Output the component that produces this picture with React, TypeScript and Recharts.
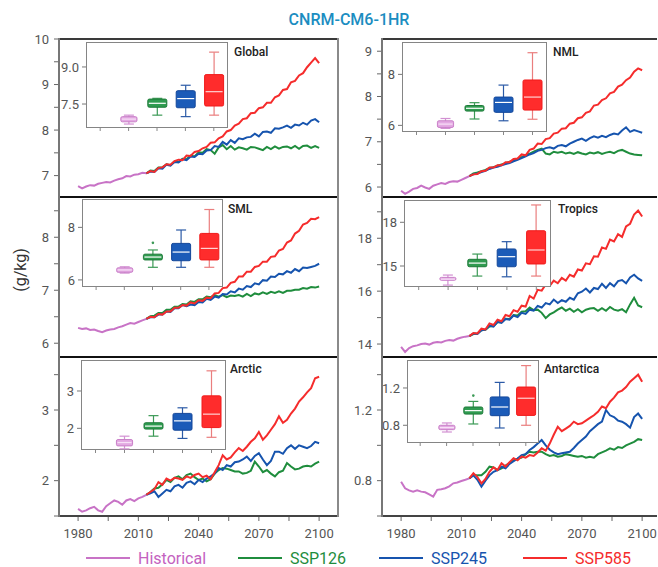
import React from 'react'
import { LineChart, Line, XAxis, YAxis, ComposedChart, Bar } from 'recharts'

const FONT = 'Roboto, "Noto Sans", sans-serif'

// years
const HIST_YEARS = [1980, 1982, 1984, 1986, 1988, 1990, 1992, 1994, 1996, 1998, 2000, 2002, 2004, 2006, 2008, 2010, 2012, 2014]
const SCEN_YEARS = [
  2014, 2016, 2018, 2020, 2022, 2024, 2026, 2028, 2030, 2032, 2034,
  2036, 2038, 2040, 2042, 2044, 2046, 2048, 2050, 2052, 2054, 2056,
  2058, 2060, 2062, 2064, 2066, 2068, 2070, 2072, 2074, 2076, 2078,
  2080, 2082, 2084, 2086, 2088, 2090, 2092, 2094, 2096, 2098, 2100,
]
const X_TICKS = [1980, 1995, 2010, 2025, 2040, 2055, 2070, 2085, 2100]
const X_LABELS = [1980, 2010, 2040, 2070, 2100]
const BOX_CATS = ['', 'Historical', 'SSP126', 'SSP245', 'SSP585']

// Global
const GLOBAL_HIST = [6.77, 6.72, 6.76, 6.79, 6.78, 6.82, 6.84, 6.86, 6.85, 6.89, 6.92, 6.94, 6.99, 6.98, 7.02, 7.03, 7.06, 7.05]
const GLOBAL_126 = [
  7.05, 7.11, 7.10, 7.18, 7.18, 7.25, 7.23, 7.31, 7.30, 7.37, 7.36,
  7.44, 7.42, 7.51, 7.50, 7.58, 7.56, 7.48, 7.62, 7.67, 7.58, 7.65,
  7.57, 7.62, 7.60, 7.57, 7.63, 7.62, 7.59, 7.56, 7.63, 7.58, 7.64,
  7.59, 7.63, 7.64, 7.60, 7.65, 7.59, 7.65, 7.66, 7.61, 7.65, 7.61,
]
const GLOBAL_245 = [
  7.05, 7.09, 7.08, 7.16, 7.15, 7.24, 7.22, 7.30, 7.29, 7.36, 7.34,
  7.42, 7.41, 7.48, 7.47, 7.55, 7.56, 7.65, 7.63, 7.74, 7.68, 7.78,
  7.72, 7.82, 7.80, 7.84, 7.85, 7.92, 7.86, 7.96, 7.97, 7.94, 8.04,
  8.03, 8.06, 8.10, 8.05, 8.12, 8.10, 8.16, 8.12, 8.21, 8.24, 8.17,
]
const GLOBAL_585 = [
  7.05, 7.10, 7.08, 7.17, 7.18, 7.25, 7.24, 7.32, 7.35, 7.34, 7.44,
  7.43, 7.52, 7.54, 7.60, 7.63, 7.72, 7.73, 7.82, 7.86, 7.97, 8.00,
  8.10, 8.14, 8.24, 8.26, 8.37, 8.38, 8.48, 8.50, 8.60, 8.60, 8.72,
  8.76, 8.88, 8.90, 9.05, 9.08, 9.20, 9.25, 9.38, 9.48, 9.58, 9.47,
]
const GLOBAL_Y_DOMAIN = [6.53, 10]
const GLOBAL_Y_TICKS = [7, 7.5, 8, 8.5, 9, 9.5, 10]
const GLOBAL_Y_LABELS = [7, 8, 9, 10]
// min, q1, median, q3, max
const GLOBAL_BOXES = [
  [6.69, 6.78, 6.89, 6.99, 7.05],
  [7.05, 7.37, 7.53, 7.70, 7.73],
  [6.99, 7.35, 7.72, 8.04, 8.26],
  [7.05, 7.42, 8.0, 8.69, 9.6],
]
const GLOBAL_INSET_DOMAIN = [6.53, 10.01]
const GLOBAL_INSET_TICKS = [7.5, 9.0]

// NML
const NML_HIST = [5.92, 5.85, 5.90, 5.96, 5.98, 6.03, 5.99, 5.96, 6.03, 6.06, 6.09, 6.07, 6.11, 6.13, 6.12, 6.16, 6.20, 6.24]
const NML_126 = [
  6.24, 6.30, 6.32, 6.35, 6.38, 6.42, 6.44, 6.47, 6.50, 6.52, 6.56,
  6.58, 6.62, 6.66, 6.70, 6.74, 6.78, 6.82, 6.85, 6.74, 6.72, 6.78,
  6.76, 6.78, 6.74, 6.76, 6.73, 6.77, 6.74, 6.72, 6.76, 6.74, 6.77,
  6.73, 6.76, 6.78, 6.75, 6.80, 6.82, 6.78, 6.74, 6.72, 6.71, 6.70,
]
const NML_245 = [
  6.24, 6.28, 6.30, 6.33, 6.36, 6.40, 6.43, 6.45, 6.48, 6.51, 6.53,
  6.57, 6.60, 6.64, 6.68, 6.72, 6.75, 6.80, 6.82, 6.86, 6.88, 6.85,
  6.91, 6.93, 6.90, 6.96, 7.00, 7.04, 7.07, 7.02, 7.08, 7.12, 7.09,
  7.13, 7.10, 7.15, 7.18, 7.16, 7.25, 7.32, 7.22, 7.26, 7.23, 7.20,
]
const NML_585 = [
  6.24, 6.28, 6.29, 6.35, 6.36, 6.43, 6.43, 6.48, 6.48, 6.55, 6.55,
  6.62, 6.63, 6.72, 6.70, 6.82, 6.85, 6.96, 6.95, 7.06, 7.08, 7.18,
  7.20, 7.29, 7.30, 7.40, 7.42, 7.52, 7.54, 7.64, 7.67, 7.80, 7.82,
  7.92, 7.96, 8.07, 8.10, 8.22, 8.26, 8.36, 8.42, 8.55, 8.62, 8.58,
]
const NML_Y_DOMAIN = [5.78, 9.27]
const NML_Y_TICKS = [6, 6.5, 7, 7.5, 8, 8.5, 9]
const NML_Y_LABELS = [6, 7, 8, 9]
const NML_BOXES = [
  [5.88, 5.92, 6.05, 6.18, 6.27],
  [6.25, 6.56, 6.67, 6.78, 6.89],
  [6.18, 6.51, 6.90, 7.11, 7.58],
  [6.24, 6.60, 7.11, 7.78, 8.85],
]
const NML_INSET_DOMAIN = [5.74, 9.27]
const NML_INSET_TICKS = [6, 8]

// SML
const SML_HIST = [6.29, 6.27, 6.28, 6.25, 6.26, 6.23, 6.21, 6.24, 6.26, 6.27, 6.30, 6.32, 6.35, 6.38, 6.37, 6.40, 6.43, 6.46]
const SML_126 = [
  6.46, 6.51, 6.52, 6.57, 6.57, 6.63, 6.63, 6.69, 6.69, 6.74, 6.73,
  6.79, 6.78, 6.83, 6.83, 6.88, 6.87, 6.91, 6.88, 6.91, 6.87, 6.90,
  6.89, 6.91, 6.88, 6.93, 6.89, 6.94, 6.92, 6.96, 6.93, 6.97, 6.95,
  6.98, 6.95, 6.99, 6.99, 7.01, 7.01, 7.04, 7.03, 7.06, 7.05, 7.07,
]
const SML_245 = [
  6.46, 6.49, 6.49, 6.54, 6.54, 6.60, 6.59, 6.66, 6.66, 6.72, 6.70,
  6.73, 6.72, 6.78, 6.77, 6.84, 6.82, 6.88, 6.86, 6.93, 6.92, 6.98,
  6.96, 7.03, 7.01, 7.08, 7.06, 7.13, 7.11, 7.19, 7.18, 7.26, 7.25,
  7.31, 7.30, 7.36, 7.33, 7.40, 7.36, 7.43, 7.42, 7.44, 7.46, 7.50,
]
const SML_585 = [
  6.46, 6.50, 6.49, 6.55, 6.54, 6.60, 6.60, 6.67, 6.67, 6.72, 6.71,
  6.77, 6.75, 6.81, 6.80, 6.86, 6.85, 6.94, 6.95, 7.04, 7.05, 7.14,
  7.16, 7.26, 7.26, 7.35, 7.35, 7.44, 7.46, 7.54, 7.54, 7.63, 7.64,
  7.75, 7.78, 7.90, 7.94, 8.07, 8.12, 8.24, 8.27, 8.35, 8.34, 8.38,
]
const SML_Y_DOMAIN = [5.74, 8.76]
const SML_Y_TICKS = [6, 6.5, 7, 7.5, 8, 8.5]
const SML_Y_LABELS = [6, 7, 8]
const SML_BOXES = [
  [6.26, 6.29, 6.38, 6.46, 6.50],
  [6.48, 6.76, 6.87, 6.98, 7.14],
  [6.48, 6.73, 7.06, 7.39, 7.90],
  [6.48, 6.76, 7.20, 7.77, 8.68],
]
const SML_OUTLIERS = [null, 7.41, null, null]
const SML_INSET_DOMAIN = [5.73, 9.08]
const SML_INSET_TICKS = [6, 8]

// Tropics
const TROP_HIST = [13.89, 13.70, 13.85, 13.92, 13.95, 14.00, 14.02, 13.98, 14.05, 14.08, 14.06, 14.12, 14.15, 14.13, 14.20, 14.25, 14.28, 14.30]
const TROP_126 = [
  14.30, 14.38, 14.40, 14.52, 14.54, 14.66, 14.68, 14.82, 14.82, 14.96, 14.95,
  15.10, 15.08, 15.22, 15.24, 15.38, 15.28, 15.30, 15.18, 14.98, 15.12, 15.20,
  15.30, 15.38, 15.26, 15.34, 15.22, 15.32, 15.20, 15.30, 15.34, 15.36, 15.26,
  15.36, 15.26, 15.40, 15.30, 15.26, 15.32, 15.20, 15.50, 15.75, 15.46, 15.39,
]
const TROP_245 = [
  14.30, 14.40, 14.38, 14.52, 14.55, 14.70, 14.66, 14.84, 14.80, 14.95, 14.92,
  15.08, 15.02, 15.18, 15.14, 15.30, 15.26, 15.44, 15.38, 15.55, 15.50, 15.68,
  15.55, 15.66, 15.60, 15.75, 15.68, 15.92, 15.98, 16.10, 15.95, 16.12, 16.08,
  16.28, 16.12, 16.30, 16.18, 16.38, 16.42, 16.30, 16.52, 16.62, 16.48, 16.39,
]
const TROP_585 = [
  14.30, 14.42, 14.40, 14.58, 14.55, 14.78, 14.72, 14.92, 14.86, 15.10, 15.05,
  15.28, 15.22, 15.45, 15.42, 15.82, 15.72, 16.05, 16.02, 16.25, 16.20, 16.40,
  16.30, 16.50, 16.40, 16.62, 16.55, 16.82, 16.78, 17.05, 17.02, 17.32, 17.30,
  17.65, 17.60, 17.95, 17.88, 18.15, 18.05, 18.45, 18.55, 18.90, 19.05, 18.82,
]
const TROP_Y_DOMAIN = [13.51, 19.56]
const TROP_Y_TICKS = [14, 15, 16, 17, 18, 19]
const TROP_Y_LABELS = [14, 16, 18]
const TROP_BOXES = [
  [13.69, 14.02, 14.10, 14.22, 14.38],
  [14.31, 14.95, 15.20, 15.46, 15.82],
  [14.26, 14.95, 15.64, 16.17, 16.67],
  [14.31, 15.14, 16.10, 17.42, 19.19],
]
const TROP_INSET_DOMAIN = [13.56, 19.53]
const TROP_INSET_TICKS = [15, 18]

// Arctic
const ARC_HIST = [1.60, 1.56, 1.58, 1.61, 1.63, 1.58, 1.56, 1.64, 1.68, 1.72, 1.70, 1.66, 1.72, 1.74, 1.71, 1.75, 1.77, 1.80]
const ARC_126 = [
  1.80, 1.84, 1.89, 1.90, 1.95, 2.01, 1.98, 2.04, 2.06, 2.02, 2.08,
  2.10, 2.05, 2.01, 2.03, 1.99, 2.02, 2.10, 2.15, 2.18, 2.17, 2.15,
  2.13, 2.13, 2.10, 2.11, 2.14, 2.27, 2.20, 2.12, 2.15, 2.10, 2.06,
  2.12, 2.14, 2.25, 2.20, 2.16, 2.17, 2.20, 2.21, 2.20, 2.24, 2.27,
]
const ARC_245 = [
  1.80, 1.82, 1.85, 1.77, 1.82, 1.87, 1.85, 1.92, 1.94, 1.90, 1.97,
  1.99, 1.95, 2.01, 1.98, 2.03, 2.06, 2.10, 2.18, 2.15, 2.22, 2.20,
  2.26, 2.27, 2.30, 2.34, 2.28, 2.35, 2.39, 2.30, 2.22, 2.28, 2.41,
  2.41, 2.38, 2.46, 2.50, 2.45, 2.50, 2.48, 2.46, 2.49, 2.55, 2.53,
]
const ARC_585 = [
  1.80, 1.84, 1.88, 1.98, 1.94, 2.03, 2.00, 2.04, 2.03, 2.01, 2.06,
  2.04, 2.08, 2.10, 2.05, 2.07, 2.02, 2.12, 2.22, 2.36, 2.30, 2.33,
  2.40, 2.46, 2.42, 2.48, 2.55, 2.60, 2.69, 2.58, 2.64, 2.72, 2.80,
  2.91, 2.82, 2.86, 2.95, 3.02, 3.12, 3.18, 3.25, 3.31, 3.45, 3.47,
]
const ARC_Y_DOMAIN = [1.5, 3.75]
const ARC_Y_TICKS = [1.5, 2, 2.5, 3, 3.5]
const ARC_Y_LABELS = [2, 3]
const ARC_BOXES = [
  [1.45, 1.53, 1.62, 1.70, 1.79],
  [1.79, 1.98, 2.06, 2.15, 2.34],
  [1.73, 1.95, 2.20, 2.40, 2.55],
  [1.76, 2.02, 2.38, 2.87, 3.54],
]
const ARC_INSET_DOMAIN = [1.42, 3.83]
const ARC_INSET_TICKS = [2, 3]

// Antarctica
const ANT_HIST = [0.794, 0.757, 0.745, 0.738, 0.745, 0.738, 0.734, 0.722, 0.710, 0.748, 0.752, 0.757, 0.768, 0.785, 0.790, 0.798, 0.805, 0.813]
const ANT_126 = [
  0.813, 0.835, 0.830, 0.830, 0.850, 0.879, 0.875, 0.860, 0.870, 0.885, 0.900,
  0.915, 0.925, 0.930, 0.950, 0.964, 0.960, 0.964, 0.964, 0.950, 0.940, 0.945,
  0.936, 0.940, 0.950, 0.945, 0.940, 0.935, 0.940, 0.930, 0.935, 0.930, 0.950,
  0.960, 0.970, 0.983, 0.975, 0.990, 0.985, 1.000, 1.010, 1.020, 1.035, 1.030,
]
const ANT_245 = [
  0.813, 0.830, 0.805, 0.766, 0.800, 0.830, 0.850, 0.860, 0.879, 0.870, 0.895,
  0.910, 0.925, 0.945, 0.950, 0.974, 0.990, 1.010, 1.030, 1.000, 0.975, 0.960,
  0.950, 0.955, 0.960, 0.964, 0.985, 1.010, 1.030, 1.050, 1.080, 1.100, 1.120,
  1.134, 1.200, 1.170, 1.160, 1.140, 1.134, 1.120, 1.100, 1.160, 1.180, 1.150,
]
const ANT_585 = [
  0.813, 0.842, 0.820, 0.785, 0.810, 0.850, 0.875, 0.860, 0.898, 0.880, 0.905,
  0.927, 0.915, 0.936, 0.930, 0.945, 0.940, 0.960, 0.983, 0.970, 1.010, 1.060,
  1.105, 1.080, 1.095, 1.110, 1.134, 1.120, 1.125, 1.140, 1.155, 1.170, 1.190,
  1.220, 1.210, 1.247, 1.270, 1.300, 1.310, 1.330, 1.360, 1.380, 1.400, 1.360,
]
const ANT_Y_DOMAIN = [0.6, 1.5]
const ANT_Y_TICKS = [0.6, 0.8, 1.0, 1.2, 1.4]
const ANT_Y_LABELS = [0.8, 1.2]
const ANT_BOXES = [
  [0.728, 0.753, 0.775, 0.800, 0.825],
  [0.814, 0.920, 0.957, 0.996, 1.056],
  [0.771, 0.903, 0.996, 1.104, 1.260],
  [0.800, 0.906, 1.090, 1.210, 1.440],
]
const ANT_OUTLIERS = [null, 1.118, null, null]
const ANT_INSET_DOMAIN = [0.61, 1.5]
const ANT_INSET_TICKS = [0.8, 1.2]

const NO_OUTLIERS = [null, null, null, null]

const LINE_COLORS = { hist: '#c873c6', s126: '#1f8d3d', s245: '#1654ae', s585: '#f52c2c' }
const BOX_STYLES = [
  { fill: '#e3a9e2', edge: '#c97fc8', whisker: '#d290d2', median: '#f7e0f7', w: 0.85 },
  { fill: '#2f9b50', edge: '#1d7a38', whisker: '#3c9a56', median: '#ffffff', w: 1 },
  { fill: '#1b5bb8', edge: '#14479a', whisker: '#2b5aa6', median: '#ffffff', w: 1 },
  { fill: '#ff2c2c', edge: '#f01a1a', whisker: '#ea7e7e', median: '#ffd2d2', w: 1 },
]

const PANELS = [
  { name: 'Global', hist: GLOBAL_HIST, s126: GLOBAL_126, s245: GLOBAL_245, s585: GLOBAL_585, yDomain: GLOBAL_Y_DOMAIN, yTicks: GLOBAL_Y_TICKS, yLabels: GLOBAL_Y_LABELS, boxes: GLOBAL_BOXES, outliers: NO_OUTLIERS, insetDomain: GLOBAL_INSET_DOMAIN, insetTicks: GLOBAL_INSET_TICKS, insetDigits: 1 },
  { name: 'NML', hist: NML_HIST, s126: NML_126, s245: NML_245, s585: NML_585, yDomain: NML_Y_DOMAIN, yTicks: NML_Y_TICKS, yLabels: NML_Y_LABELS, boxes: NML_BOXES, outliers: NO_OUTLIERS, insetDomain: NML_INSET_DOMAIN, insetTicks: NML_INSET_TICKS, insetDigits: 0 },
  { name: 'SML', hist: SML_HIST, s126: SML_126, s245: SML_245, s585: SML_585, yDomain: SML_Y_DOMAIN, yTicks: SML_Y_TICKS, yLabels: SML_Y_LABELS, boxes: SML_BOXES, outliers: SML_OUTLIERS, insetDomain: SML_INSET_DOMAIN, insetTicks: SML_INSET_TICKS, insetDigits: 0 },
  { name: 'Tropics', hist: TROP_HIST, s126: TROP_126, s245: TROP_245, s585: TROP_585, yDomain: TROP_Y_DOMAIN, yTicks: TROP_Y_TICKS, yLabels: TROP_Y_LABELS, boxes: TROP_BOXES, outliers: NO_OUTLIERS, insetDomain: TROP_INSET_DOMAIN, insetTicks: TROP_INSET_TICKS, insetDigits: 0 },
  { name: 'Arctic', hist: ARC_HIST, s126: ARC_126, s245: ARC_245, s585: ARC_585, yDomain: ARC_Y_DOMAIN, yTicks: ARC_Y_TICKS, yLabels: ARC_Y_LABELS, boxes: ARC_BOXES, outliers: NO_OUTLIERS, insetDomain: ARC_INSET_DOMAIN, insetTicks: ARC_INSET_TICKS, insetDigits: 0 },
  { name: 'Antarctica', hist: ANT_HIST, s126: ANT_126, s245: ANT_245, s585: ANT_585, yDomain: ANT_Y_DOMAIN, yTicks: ANT_Y_TICKS, yLabels: ANT_Y_LABELS, boxes: ANT_BOXES, outliers: ANT_OUTLIERS, insetDomain: ANT_INSET_DOMAIN, insetTicks: ANT_INSET_TICKS, insetDigits: 1 },
]

// layout of the 3x2 grid
const COLS = [
  { x0: 59, x1: 338, xDomain: [1970.5, 2109.4] },
  { x0: 382, x1: 657, xDomain: [1970.5, 2107.4] },
]
const ROWS = [
  { y0: 39, y1: 197 },
  { y0: 197, y1: 357 },
  { y0: 357, y1: 516 },
]
const INSETS = [
  { x: 86, y: 42, w: 142, h: 86, lx: 234, ly: 45 },
  { x: 402, y: 42, w: 145, h: 90, lx: 553, ly: 45 },
  { x: 82, y: 199, w: 141, h: 88, lx: 228, ly: 202 },
  { x: 404, y: 200, w: 147, h: 87, lx: 558, ly: 202 },
  { x: 81, y: 360, w: 145, h: 90, lx: 230, ly: 362 },
  { x: 407, y: 360, w: 132, h: 83, lx: 544, ly: 362 },
]

const near = (list: number[], v: number) => list.some((t) => Math.abs(t - v) < 1e-6)
const toPoints = (years: number[], vals: number[]) => years.map((year, i) => ({ year, v: vals[i] }))

function BoxShape(props: any) {
  const { x, y, width, height, payload } = props
  if (!payload || !payload.stats) return null
  const [mn, q1, md, q3, mx] = payload.stats
  const st = payload.style
  const top = Math.min(y, y + height)
  const bot = Math.max(y, y + height)
  const py = (v: number) => top + ((mx - v) / (mx - mn)) * (bot - top)
  const cx = x + width / 2
  const bw = width * st.w
  const bx = cx - bw / 2
  return (
    <g>
      <line x1={cx} x2={cx} y1={py(mx)} y2={py(mn)} stroke={st.whisker} strokeWidth={1.2} />
      <line x1={cx - 5} x2={cx + 5} y1={py(mx)} y2={py(mx)} stroke={st.whisker} strokeWidth={1.2} />
      <line x1={cx - 5} x2={cx + 5} y1={py(mn)} y2={py(mn)} stroke={st.whisker} strokeWidth={1.2} />
      <rect x={bx} y={py(q3)} width={bw} height={py(q1) - py(q3)} fill={st.fill} stroke={st.edge} strokeWidth={1} rx={1.5} />
      <line x1={bx + 1} x2={bx + bw - 1} y1={py(md)} y2={py(md)} stroke={st.median} strokeWidth={1.2} />
      {payload.outlier != null && <circle cx={cx} cy={py(payload.outlier)} r={1.3} fill={st.whisker} />}
    </g>
  )
}

function MainPanel({ cfg, col, row, showX }: any) {
  const axisW = 40
  const padTop = 10
  const plotW = col.x1 - col.x0
  const plotH = row.y1 - row.y0
  const xAxisH = showX ? 30 : 0
  const tickStyle = { fontSize: 13, fill: '#555', fontFamily: FONT }
  return (
    <div style={{ position: 'absolute', left: col.x0 - axisW, top: row.y0 - padTop }}>
      <LineChart width={plotW + axisW} height={plotH + xAxisH + padTop} margin={{ top: padTop, right: 0, bottom: 0, left: 0 }}>
        <XAxis
          type="number"
          dataKey="year"
          domain={col.xDomain}
          allowDataOverflow
          ticks={X_TICKS}
          interval={0}
          hide={!showX}
          height={30}
          axisLine={false}
          tickSize={5}
          tickMargin={8}
          tickLine={{ stroke: '#666' }}
          tick={tickStyle}
          tickFormatter={(v: number) => (near(X_LABELS, v) ? String(v) : '')}
        />
        <YAxis
          type="number"
          domain={cfg.yDomain}
          allowDataOverflow
          ticks={cfg.yTicks}
          interval={0}
          width={axisW}
          axisLine={false}
          tickSize={5}
          tickMargin={5}
          tickLine={{ stroke: '#666' }}
          tick={tickStyle}
          tickFormatter={(v: number) => (near(cfg.yLabels, v) ? String(v) : '')}
        />
        <Line data={toPoints(HIST_YEARS, cfg.hist)} dataKey="v" name="Historical" stroke={LINE_COLORS.hist} strokeWidth={2} dot={false} isAnimationActive={false} />
        <Line data={toPoints(SCEN_YEARS, cfg.s126)} dataKey="v" name="SSP126" stroke={LINE_COLORS.s126} strokeWidth={2} dot={false} isAnimationActive={false} />
        <Line data={toPoints(SCEN_YEARS, cfg.s245)} dataKey="v" name="SSP245" stroke={LINE_COLORS.s245} strokeWidth={2} dot={false} isAnimationActive={false} />
        <Line data={toPoints(SCEN_YEARS, cfg.s585)} dataKey="v" name="SSP585" stroke={LINE_COLORS.s585} strokeWidth={2} dot={false} isAnimationActive={false} />
      </LineChart>
    </div>
  )
}

function InsetPanel({ cfg, frame }: any) {
  const axisW = 28
  const rows = BOX_CATS.map((name, i) => {
    if (i === 0) return { name }
    const s = cfg.boxes[i - 1]
    return { name, range: [s[0], s[4]], stats: s, style: BOX_STYLES[i - 1], outlier: cfg.outliers[i - 1] }
  })
  return (
    <>
      <div style={{ position: 'absolute', left: frame.x, top: frame.y, width: frame.w, height: frame.h, background: '#fff', border: '1.5px solid #858585', boxSizing: 'border-box' }} />
      <div style={{ position: 'absolute', left: frame.x - axisW, top: frame.y }}>
        <ComposedChart width={frame.w + axisW} height={frame.h + 4} data={rows} margin={{ top: 0, right: 0, bottom: 0, left: 0 }}>
          <XAxis dataKey="name" type="category" height={4} interval={0} axisLine={false} tickSize={3} tickLine={{ stroke: '#888' }} tickFormatter={() => ''} />
          <YAxis
            type="number"
            domain={cfg.insetDomain}
            allowDataOverflow
            ticks={cfg.insetTicks}
            interval={0}
            width={axisW}
            axisLine={false}
            tickSize={4}
            tickMargin={3}
            tickLine={{ stroke: '#777' }}
            tick={{ fontSize: 13, fill: '#555', fontFamily: FONT }}
            tickFormatter={(v: number) => v.toFixed(cfg.insetDigits)}
          />
          <Bar dataKey="range" barSize={19} shape={BoxShape} isAnimationActive={false} />
        </ComposedChart>
      </div>
      <div style={{ position: 'absolute', left: frame.lx, top: frame.ly, fontSize: 12, lineHeight: '14px', fontWeight: 500, color: '#222', fontFamily: FONT }}>
        {cfg.name}
      </div>
    </>
  )
}

function Frames() {
  const parts: any[] = []
  COLS.forEach((c, ci) => {
    const w = c.x1 - c.x0
    parts.push(<div key={`t${ci}`} style={{ position: 'absolute', left: c.x0, top: 38, width: w, height: 1.5, background: '#3a3a3a' }} />)
    parts.push(<div key={`d1${ci}`} style={{ position: 'absolute', left: c.x0, top: 196, width: w, height: 2, background: '#111' }} />)
    parts.push(<div key={`d2${ci}`} style={{ position: 'absolute', left: c.x0, top: 356, width: w, height: 2, background: '#111' }} />)
    parts.push(<div key={`b${ci}`} style={{ position: 'absolute', left: c.x0, top: 515, width: w, height: 1.5, background: '#444' }} />)
    parts.push(<div key={`l${ci}`} style={{ position: 'absolute', left: c.x0 - 1, top: 38, width: 1.5, height: 479, background: '#777' }} />)
    if (ci === 0) parts.push(<div key="r0" style={{ position: 'absolute', left: c.x1 - 1, top: 38, width: 1.5, height: 479, background: '#8a8a8a' }} />)
  })
  return <>{parts}</>
}

const LEGEND = [
  { label: 'Historical', color: LINE_COLORS.hist, text: '#c462bf', x: 86 },
  { label: 'SSP126', color: LINE_COLORS.s126, text: '#1f8d3d', x: 238 },
  { label: 'SSP245', color: LINE_COLORS.s245, text: '#1654ae', x: 379 },
  { label: 'SSP585', color: LINE_COLORS.s585, text: '#f52c2c', x: 523 },
]

export default function App() {
  return (
    <div style={{ position: 'absolute', left: 0, top: 0, width: 658, height: 567, overflow: 'hidden', background: '#fff', fontFamily: FONT }}>
      <div style={{ position: 'absolute', left: 249, width: 200, top: 12, textAlign: 'center', fontSize: 16, lineHeight: '16px', fontWeight: 500, color: '#1b8dc1' }}>
        CNRM-CM6-1HR
      </div>
      <div style={{ position: 'absolute', left: 20, top: 270, transform: 'translate(-50%, -50%) rotate(-90deg)', fontSize: 16, color: '#333', whiteSpace: 'nowrap' }}>
        (g/kg)
      </div>
      {PANELS.map((cfg, i) => (
        <MainPanel key={cfg.name} cfg={cfg} col={COLS[i % 2]} row={ROWS[Math.floor(i / 2)]} showX={i >= 4} />
      ))}
      {PANELS.map((cfg, i) => (
        <InsetPanel key={`in-${cfg.name}`} cfg={cfg} frame={INSETS[i]} />
      ))}
      <Frames />
      {LEGEND.map((l) => (
        <div key={l.label} style={{ position: 'absolute', left: l.x, top: 549, height: 18, display: 'flex', alignItems: 'center' }}>
          <div style={{ width: 44, height: 2.5, background: l.color, marginRight: 8 }} />
          <span style={{ fontSize: 16, color: l.text }}>{l.label}</span>
        </div>
      ))}
    </div>
  )
}
